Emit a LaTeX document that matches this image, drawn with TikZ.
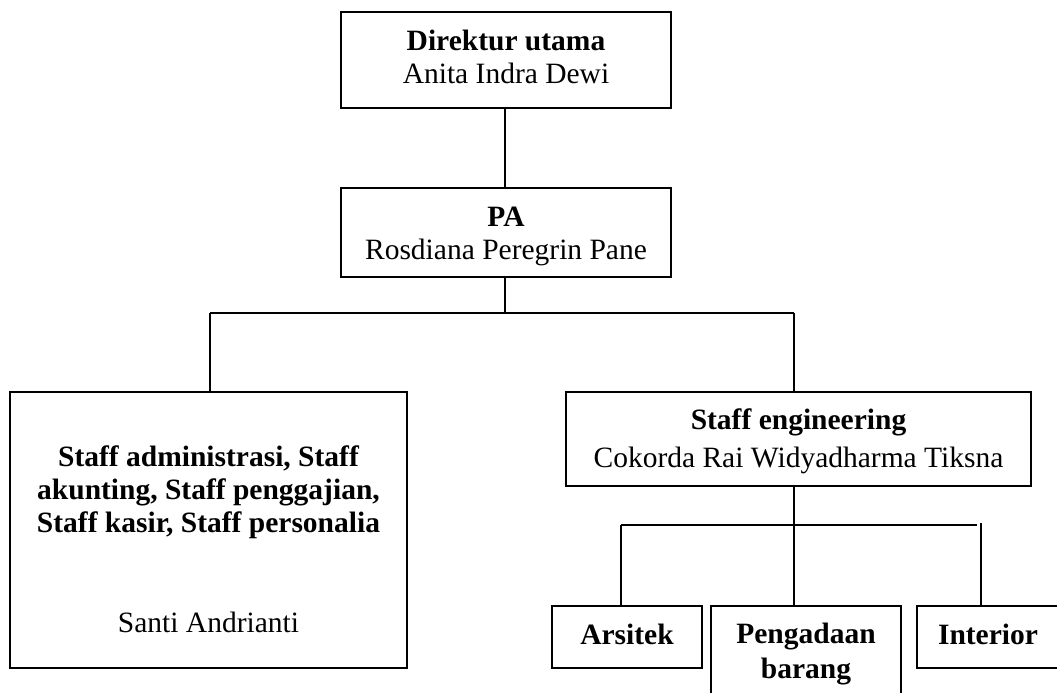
\documentclass[tikz,border=0pt]{standalone}
\usepackage{fontspec}
\setmainfont{Liberation Serif}
\begin{document}
\begin{tikzpicture}[x=1pt,y=-1pt,
  box/.style={draw=black, line width=1.8pt, inner sep=0pt, outer sep=0pt, fill=none},
  txt/.style={inner sep=0pt, anchor=base, font=\fontsize{29.5}{33}\selectfont},
  btxt/.style={txt, font=\fontsize{29.5}{33}\selectfont\bfseries},
  conn/.style={draw=black, line width=1.8pt}]
\useasboundingbox (0,0) rectangle (1057,693);
\fill[white] (0,0) rectangle (1057,693);
\clip (0,0) rectangle (1057,693);

% boxes
\node[box, minimum width=330, minimum height=96] (dir) at (506,60) {};
\node[box, minimum width=330, minimum height=89] (pa) at (506,232.5) {};
\node[box, minimum width=397, minimum height=276] (adm) at (208.5,530) {};
\node[box, minimum width=465, minimum height=94] (eng) at (798.5,439) {};
\node[box, minimum width=150, minimum height=62] (ars) at (627,637) {};
\node[box, minimum width=190, minimum height=124] (peng) at (806,668) {};
\node[box, minimum width=142, minimum height=62] (inter) at (988,637) {};

% texts
\node[btxt] (t1) at (506,50.5) {Direktur utama};
\node[txt]  (t2) at (506,84) {Anita Indra Dewi};
\node[btxt] (t3) at (506,226) {PA};
\node[txt]  (t4) at (506,259) {Rosdiana Peregrin Pane};
\node[btxt] (t5) at (208.5,466) {Staff administrasi, Staff};
\node[btxt] (t6) at (208.5,499) {akunting, Staff penggajian,};
\node[btxt] (t7) at (208.5,532) {Staff kasir, Staff personalia};
\node[txt]  (t8) at (208.5,632) {Santi Andrianti};
\node[btxt] (t9) at (798.5,429) {Staff engineering};
\node[txt]  (t10) at (798.5,467) {Cokorda Rai Widyadharma Tiksna};
\node[btxt] (t11) at (627,644) {Arsitek};
\node[btxt] (t12) at (806,643) {Pengadaan};
\node[btxt] (t13) at (806,678) {barang};
\node[btxt] (t14) at (988,644) {Interior};

% junctions
\coordinate (j1) at (505,313);
\coordinate (jl) at (210,313);
\coordinate (jr) at (794,313);
\coordinate (k1) at (794,525);
\coordinate (kl) at (621,525);
\coordinate (kr) at (977,525);
\coordinate (kr2) at (981,523);

% connectors
\draw[conn] (dir.south -| j1) -- (pa.north -| j1);
\draw[conn] (pa.south -| j1) -- (j1);
\draw[conn] (jl) -- (jr);
\draw[conn] (jl) -- (jl |- adm.north);
\draw[conn] (jr) -- (jr |- eng.north);
\draw[conn] (eng.south -| k1) -- (k1 |- peng.north);
\draw[conn] (kl) -- (kr);
\draw[conn] (kl) -- (kl |- ars.north);
\draw[conn] (kr2) -- (kr2 |- inter.north);
\end{tikzpicture}
\end{document}
